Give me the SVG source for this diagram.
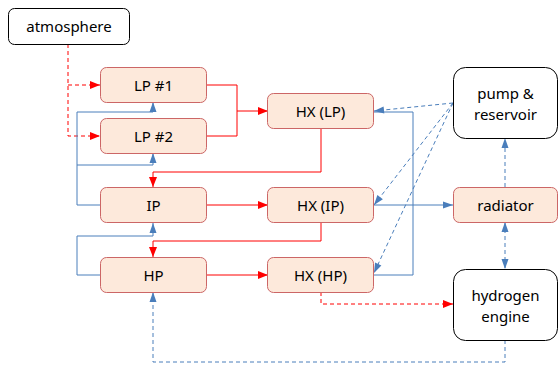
<svg xmlns="http://www.w3.org/2000/svg" width="558" height="365" viewBox="0 0 558 365">
<defs>
<marker id="ar" markerUnits="userSpaceOnUse" markerWidth="12" markerHeight="10" refX="11" refY="5" orient="auto"><path d="M1,1 L11,5 L1,9 Z" fill="#ff0000"/></marker>
<marker id="ab" markerUnits="userSpaceOnUse" markerWidth="12" markerHeight="10" refX="11" refY="5" orient="auto"><path d="M1,1.5 L11,5 L1,8.5 Z" fill="#4a7ebb"/></marker>
<marker id="abs" markerUnits="userSpaceOnUse" markerWidth="12" markerHeight="10" refX="1" refY="5" orient="auto"><path d="M11,1.5 L1,5 L11,8.5 Z" fill="#4a7ebb"/></marker>
</defs>
<style>
.n{fill:#fde9db;stroke:#cc6666;stroke-width:1}
.w{fill:#ffffff;stroke:#000000;stroke-width:1}
text{font-family:"Noto Sans","DejaVu Sans",sans-serif;font-size:15px;fill:#000;text-anchor:middle;dominant-baseline:central}
.r{fill:none;stroke:#ff0000;stroke-width:1}
.b{fill:none;stroke:#4a7ebb;stroke-width:1}
.d{stroke-dasharray:4 3}
</style>
<g id="connectors">
<path class="r d" d="M68,44 V136 H100" marker-end="url(#ar)"/>
<path class="r d" d="M68,85 H100" marker-end="url(#ar)"/>
<path class="r" d="M207,85 H237 V136 H207"/>
<path class="r" d="M237,111 H268" marker-end="url(#ar)"/>
<path class="r" d="M321,129 V172 H153 V187" marker-end="url(#ar)"/>
<path class="r" d="M207,205 H268" marker-end="url(#ar)"/>
<path class="r" d="M321,222 V241 H153 V257" marker-end="url(#ar)"/>
<path class="r" d="M207,275 H268" marker-end="url(#ar)"/>
<path class="r d" d="M321,292 V304 H453" marker-end="url(#ar)"/>
<path class="b" d="M100,205 H77 V112 H153 V102" marker-end="url(#ab)"/>
<path class="b" d="M77,165 H153 V153" marker-end="url(#ab)"/>
<path class="b" d="M100,275 H77 V236 H153 V223" marker-end="url(#ab)"/>
<path class="b d" d="M505,340 V362 H153 V292" marker-end="url(#ab)"/>
<path class="b" d="M374,112 H413 V275 H374"/>
<path class="b" d="M374,205 H453" marker-end="url(#ab)"/>
<path class="b d" d="M453,103 L374,111" marker-end="url(#ab)"/>
<path class="b d" d="M453,103 L374,205" marker-end="url(#ab)"/>
<path class="b d" d="M453,103 L374,273" marker-end="url(#ab)"/>
<path class="b d" d="M505,187 V138" marker-end="url(#ab)"/>
<path class="b d" d="M505,222 V269" marker-start="url(#abs)" marker-end="url(#ab)"/>
</g>
<g id="atmosphere"><rect class="w" x="8.5" y="8.5" width="121" height="36" rx="6"/><text x="69" y="26">atmosphere</text></g>
<g id="lp1"><rect class="n" x="100.5" y="67.5" width="106" height="35" rx="6"/><text x="153.5" y="85">LP #1</text></g>
<g id="lp2"><rect class="n" x="100.5" y="118.5" width="106" height="35" rx="6"/><text x="153.5" y="136">LP #2</text></g>
<g id="ip"><rect class="n" x="100.5" y="187.5" width="106" height="35" rx="6"/><text x="153.5" y="205">IP</text></g>
<g id="hp"><rect class="n" x="100.5" y="257.5" width="106" height="35" rx="6"/><text x="153.5" y="275">HP</text></g>
<g id="hxlp"><rect class="n" x="267.5" y="93.5" width="106" height="35" rx="6"/><text x="320.5" y="111">HX (LP)</text></g>
<g id="hxip"><rect class="n" x="267.5" y="187.5" width="106" height="35" rx="6"/><text x="320.5" y="205">HX (IP)</text></g>
<g id="hxhp"><rect class="n" x="267.5" y="257.5" width="106" height="35" rx="6"/><text x="320.5" y="275">HX (HP)</text></g>
<g id="pump"><rect class="w" x="453.5" y="67.5" width="104" height="71" rx="12"/><text x="505.5" y="92.5">pump &amp;</text><text x="505.5" y="113.5">reservoir</text></g>
<g id="radiator"><rect class="n" x="453.5" y="187.5" width="104" height="35" rx="6"/><text x="505.5" y="205">radiator</text></g>
<g id="engine"><rect class="w" x="453.5" y="269.5" width="104" height="71" rx="12"/><text x="505.5" y="294.5">hydrogen</text><text x="505.5" y="315.5">engine</text></g>
</svg>
